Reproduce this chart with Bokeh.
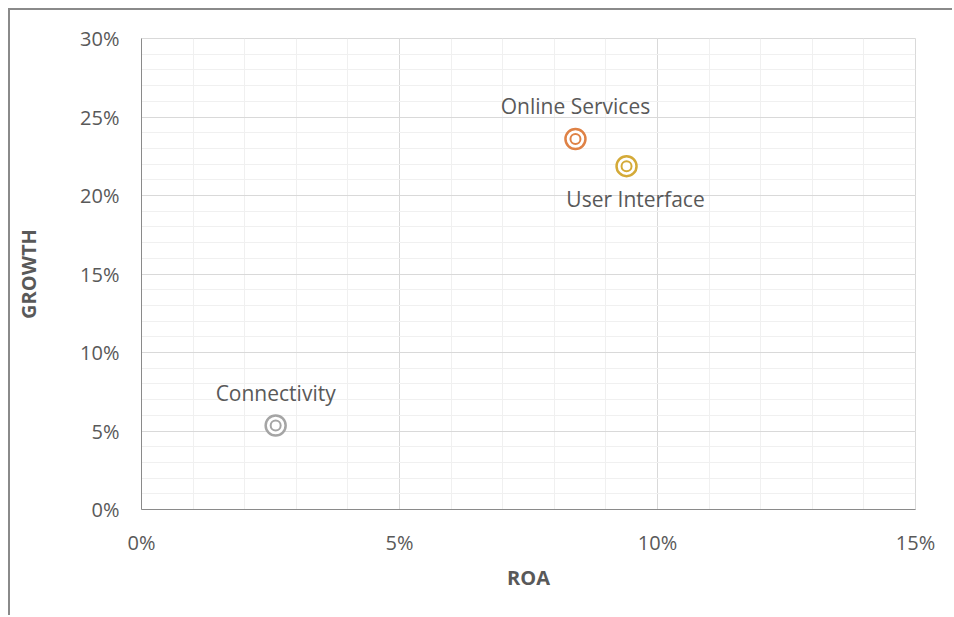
from bokeh.plotting import figure
from bokeh.models import ColumnDataSource, FixedTicker, CustomJSTickFormatter, Range1d
from bokeh.core.properties import value
from bokeh.embed import file_html
from bokeh.resources import INLINE

# ---- data ----
names = ["Online Services", "User Interface", "Connectivity"]
roa = [8.41, 9.40, 2.60]          # %
growth = [23.6, 21.87, 5.35]      # %
colors = ["#DF8246", "#D4AA38", "#A5A5A5"]
placement = ["above", "below", "above"]

x_ticks = [0, 5, 10, 15]
y_ticks = [0, 5, 10, 15, 20, 25, 30]

FONT = "Open Sans"
TXT = "#595959"

p = figure(width=944, height=607, output_backend="svg", toolbar_location=None,
           x_range=Range1d(0, 15), y_range=Range1d(0, 30),
           min_border_left=131, min_border_right=39, min_border_top=28, min_border_bottom=108)
p.styles = {"margin-left": "8px", "margin-top": "8px",
            "border-left": "2px solid #8a8a8a", "border-top": "2px solid #8a8a8a"}

p.xaxis.ticker = FixedTicker(ticks=x_ticks, minor_ticks=list(range(0, 16)))
p.yaxis.ticker = FixedTicker(ticks=y_ticks, minor_ticks=list(range(0, 31)))
fmt = CustomJSTickFormatter(code="return tick.toFixed(0) + '%';")
for ax in (p.xaxis, p.yaxis):
    ax.formatter = fmt
    ax.major_tick_line_color = None
    ax.minor_tick_line_color = None
    ax.axis_line_color = "#8a8a8a"
    ax.axis_line_width = 1
    ax.major_label_text_font = FONT
    ax.major_label_text_font_size = "20px"
    ax.major_label_text_color = TXT
    ax.axis_label_text_font = FONT
    ax.axis_label_text_font_size = "20px"
    ax.axis_label_text_font_style = "bold"
    ax.axis_label_text_color = TXT

p.xaxis.axis_label = "ROA"
p.yaxis.axis_label = "GROWTH"
p.xaxis.major_label_standoff = 13
p.yaxis.major_label_standoff = 16
p.xaxis.axis_label_standoff = 5
p.yaxis.axis_label_standoff = 35

for g in (p.xgrid, p.ygrid):
    g.grid_line_color = "#d9d9d9"
    g.grid_line_width = 1
    g.minor_grid_line_color = "#f0f0f0"
    g.minor_grid_line_width = 1

p.outline_line_color = "#d9d9d9"
p.background_fill_color = "white"
p.border_fill_color = "white"

src = ColumnDataSource(dict(x=roa, y=growth, c=colors, name=names,
                            dy=[-33 if pl == "above" else 33 for pl in placement],
                            dx=[0 if pl == "above" else 9 for pl in placement]))

p.scatter("x", "y", source=src, size=20, fill_color="white", line_color="c", line_width=2.5)
p.scatter("x", "y", source=src, size=10, fill_color="white", line_color="c", line_width=2)

p.text("x", "y", text="name", source=src, x_offset="dx", y_offset="dy",
       text_align="center", text_baseline="middle",
       text_font=value(FONT), text_font_size="21px", text_color=TXT)

open("out.html", "w").write(file_html(p, INLINE))
